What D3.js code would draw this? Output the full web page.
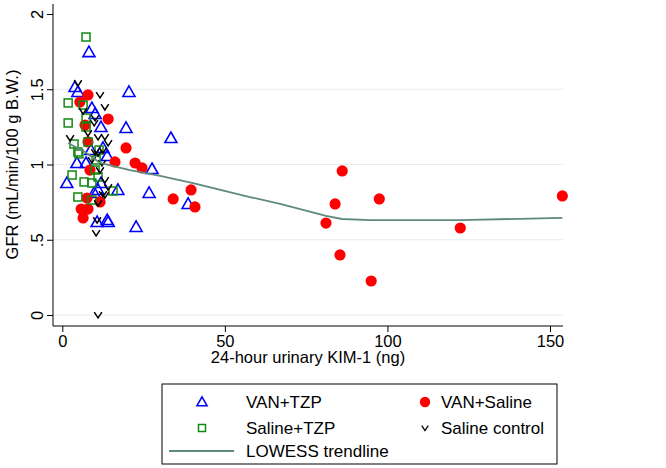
<!DOCTYPE html>
<html><head><meta charset="utf-8">
<script src="https://cdn.jsdelivr.net/npm/d3@7/dist/d3.min.js"></script>
<style>html,body{margin:0;padding:0;background:#fff}svg{display:block;font-family:"Liberation Sans",Arial,sans-serif}</style>
</head><body><svg id="c" width="666" height="468"></svg>
<script>
// ---- data ----
const vanTzp = [[8.2,1.747],[3.9,1.515],[4.8,1.482],[20.5,1.482],[9.1,1.375],[10.1,1.336],[11.9,1.249],[19.6,1.243],[33.4,1.176],[4.5,1.010],[7.3,1.010],[27.6,0.970],[1.4,0.877],[11.0,0.831],[17.1,0.831],[26.7,0.811],[9.8,0.811],[38.7,0.738],[13.8,0.631],[10.7,0.618],[14.1,0.618],[22.7,0.585],[12.5,1.110],[13.8,1.056],[11.9,0.877],[8.8,1.096]];
const vanSaline = [[7.9,1.462],[5.4,1.415],[14.1,1.302],[7.0,1.262],[7.9,1.150],[19.6,1.110],[16.2,1.017],[22.4,1.010],[24.5,0.977],[8.5,0.963],[7.6,0.777],[5.8,0.704],[7.9,0.704],[6.4,0.645],[11.6,0.751],[34.1,0.771],[39.6,0.831],[40.8,0.718],[86.1,0.957],[83.9,0.738],[81.1,0.611],[97.5,0.771],[85.4,0.399],[95.0,0.226],[122.4,0.578],[153.8,0.791]];
const salineTzp = [[7.3,1.847],[1.8,1.409],[6.4,1.395],[1.8,1.276],[7.3,1.309],[7.3,1.249],[7.9,1.150],[3.6,1.136],[4.8,1.083],[5.1,1.070],[3.0,0.930],[10.1,0.963],[11.0,0.917],[6.7,0.884],[9.1,0.877],[4.8,0.784],[15.6,0.824],[9.1,0.764],[10.4,1.030],[11.3,1.096]];
const salineControl = [[4.8,1.541],[11.6,1.462],[13.1,1.382],[6.4,1.355],[10.1,1.309],[2.4,1.176],[7.9,1.209],[11.0,1.183],[13.1,1.183],[14.1,1.143],[10.1,1.083],[11.0,1.076],[12.2,1.010],[13.1,0.897],[14.1,0.850],[12.5,0.804],[11.0,0.744],[10.7,0.631],[10.4,0.545],[11.0,0.000],[12.5,1.096],[13.1,0.797],[9.8,1.276],[9.1,1.030],[11.6,0.963]];
const lowess = [[1.75,1.143],[7.0,1.083],[11.6,1.010],[20.8,0.963],[30.1,0.924],[40.2,0.877],[57.7,0.784],[67.0,0.738],[81.1,0.658],[86.0,0.638],[94.7,0.631],[122.4,0.631],[153.8,0.645]];
const xTicks = [0,50,100,150];
const yTicks = [0,0.5,1,1.5,2];
const yTickLabels = ["0",".5","1","1.5","2"];
const legendLabels = ["VAN+TZP","VAN+Saline","Saline+TZP","Saline control","LOWESS trendline"];

// ---- layout ----
const svg = d3.select("#c");
const x = d3.scaleLinear().domain([0,150]).range([62.3,550]);
const y = d3.scaleLinear().domain([0,2]).range([315,14]);
const axL = 53, axB = 326, axR = 563, axT = 4;
const FS = 16.5;

// gridlines
svg.append("g").selectAll("line").data(yTicks.slice(0,4)).join("line")
  .attr("x1",axL).attr("x2",axR).attr("y1",d=>y(d)).attr("y2",d=>y(d))
  .attr("stroke","#e3ecf1").attr("stroke-width",1.2);

// x axis
const gx = svg.append("g").attr("transform",`translate(0,${axB})`)
  .call(d3.axisBottom(x).tickValues(xTicks).tickSize(6).tickPadding(3).tickFormat(d3.format("d")));
gx.select(".domain").remove();
gx.append("line").attr("x1",axL).attr("x2",axR).attr("stroke","#000");
gx.selectAll("text").attr("font-size",FS).attr("fill","#000").style("font-family","Liberation Sans, Arial");
gx.selectAll(".tick line").attr("stroke","#000");

// y axis
const gy = svg.append("g").attr("transform",`translate(${axL},0)`)
  .call(d3.axisLeft(y).tickValues(yTicks).tickSize(6).tickFormat((d,i)=>yTickLabels[i]));
gy.select(".domain").remove();
gy.append("line").attr("y1",axT).attr("y2",axB).attr("stroke","#000");
gy.selectAll(".tick line").attr("stroke","#000");
gy.selectAll("text").attr("font-size",FS).attr("fill","#000").style("font-family","Liberation Sans, Arial")
  .attr("transform","rotate(-90)").attr("x",0).attr("y",-10).attr("dy",0).attr("text-anchor","middle");

// axis titles
svg.append("text").attr("x",(axL+axR)/2).attr("y",363).attr("text-anchor","middle")
  .attr("font-size",FS).text("24-hour urinary KIM-1 (ng)");
svg.append("text").attr("transform",`translate(18,${(y(0)+y(2))/2}) rotate(-90)`).attr("text-anchor","middle")
  .attr("font-size",FS).text("GFR (mL/min/100 g B.W.)");

// markers
const tri = "M0,-6L6,4.5L-6,4.5Z";
const vpath = "M-3.8,-2.8L0,3L3.8,-2.8";
const plot = svg.append("g");
plot.append("g").selectAll("path").data(vanTzp).join("path")
  .attr("d",tri).attr("transform",d=>`translate(${x(d[0])},${y(d[1])})`)
  .attr("fill","none").attr("stroke","#0000ff").attr("stroke-width",1.6);
plot.append("g").selectAll("circle").data(vanSaline).join("circle")
  .attr("cx",d=>x(d[0])).attr("cy",d=>y(d[1])).attr("r",5.6).attr("fill","#ff0000");
plot.append("g").selectAll("rect").data(salineTzp).join("rect")
  .attr("x",d=>x(d[0])-4).attr("y",d=>y(d[1])-4).attr("width",8).attr("height",8)
  .attr("fill","none").attr("stroke","#108a10").attr("stroke-width",1.5);
plot.append("g").selectAll("path").data(salineControl).join("path")
  .attr("d",vpath).attr("transform",d=>`translate(${x(d[0])},${y(d[1])})`)
  .attr("fill","none").attr("stroke","#000").attr("stroke-width",1.5);
plot.append("path").datum(lowess)
  .attr("d",d3.line().x(d=>x(d[0])).y(d=>y(d[1])))
  .attr("fill","none").attr("stroke","#5f8a7c").attr("stroke-width",1.8);

// legend
const lg = svg.append("g");
lg.append("rect").attr("x",162).attr("y",384).attr("width",395).attr("height",80)
  .attr("fill","#fff").attr("stroke","#000").attr("stroke-width",1);
const c1s=202,c1t=246,c2s=425,c2t=441, r1=402,r2=428,r3=451;
lg.append("path").attr("d",tri).attr("transform",`translate(${c1s},${r1}) scale(0.85)`).attr("fill","none").attr("stroke","#0000ff").attr("stroke-width",1.8);
lg.append("circle").attr("cx",c2s).attr("cy",r1).attr("r",5.2).attr("fill","#ff0000");
lg.append("rect").attr("x",c1s-3.5).attr("y",r2-3.5).attr("width",7).attr("height",7).attr("fill","none").attr("stroke","#108a10").attr("stroke-width",1.5);
lg.append("path").attr("d",vpath).attr("transform",`translate(${c2s},${r2}) scale(0.85)`).attr("fill","none").attr("stroke","#000").attr("stroke-width",1.5);
lg.append("line").attr("x1",169).attr("x2",234).attr("y1",r3).attr("y2",r3).attr("stroke","#5f8a7c").attr("stroke-width",1.8);
const lt = [[c1t,r1,0],[c2t,r1,1],[c1t,r2,2],[c2t,r2,3],[c1t,r3,4]];
lg.selectAll("text").data(lt).join("text").attr("x",d=>d[0]).attr("y",d=>d[1]).attr("dy","0.36em")
  .attr("font-size",17).text(d=>legendLabels[d[2]]);
</script></body></html>
